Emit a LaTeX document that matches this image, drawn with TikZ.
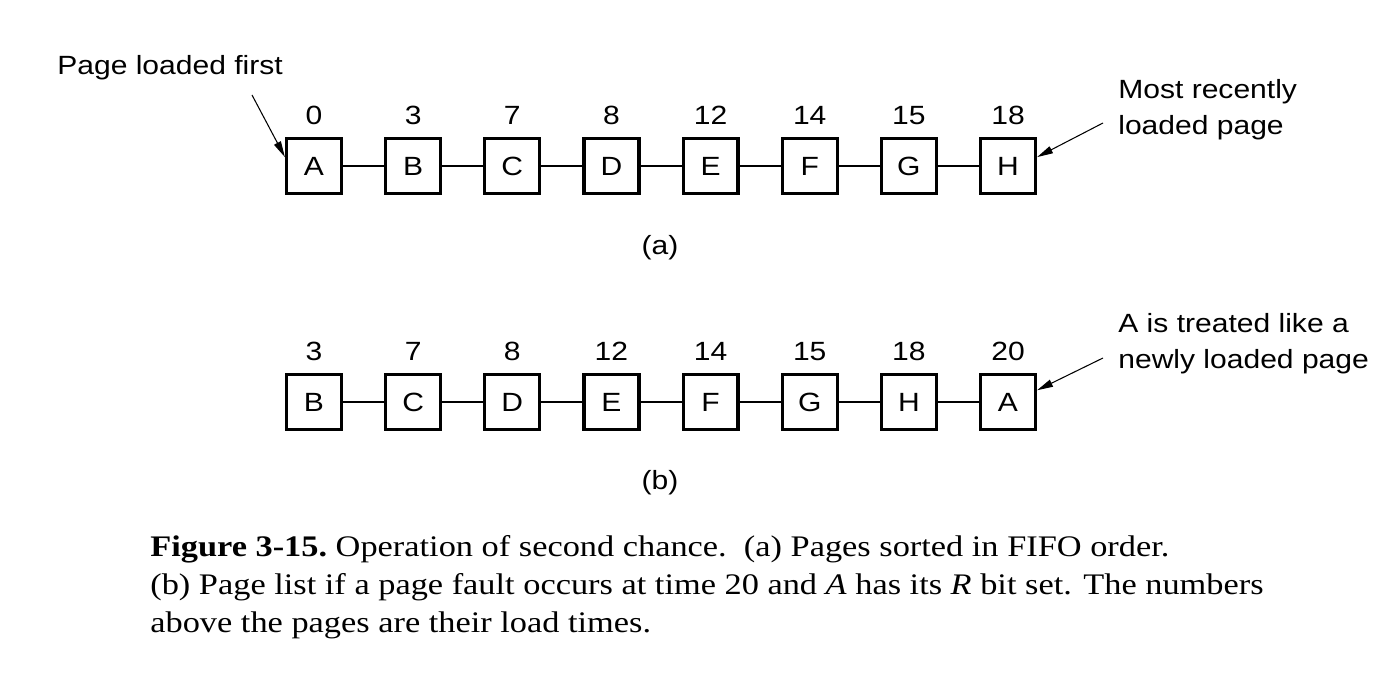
\documentclass[tikz,border=0pt]{standalone}
\usepackage{fontspec}
\setmainfont[FakeStretch=1.15]{Liberation Serif}
\setsansfont[FakeStretch=1.14]{Liberation Sans}
\usepackage{tikz}
\usetikzlibrary{arrows.meta,positioning}

\begin{document}
\begin{tikzpicture}[x=0.02cm, y=0.02cm, node distance=0.82cm,
  every node/.style={font=\sffamily\fontsize{15}{20.5}\selectfont},
  every label/.style={inner sep=0pt},
  label distance=0.24cm,
  pagebox/.style={draw, line width=1.8pt, minimum size=1.1cm, inner sep=0pt},
  link/.style={line width=1.3pt},
  callout/.style={-{Triangle[length=0.32cm,width=0.15cm]}, line width=0.6pt}]
\useasboundingbox (0,0) rectangle (1390,686);

% (a) pages in FIFO order
\node[pagebox, label=above:0] (aA) at (314,520) {A};
\node[pagebox, label=above:3, right=of aA] (aB) {B};
\node[pagebox, label=above:7, right=of aB] (aC) {C};
\node[pagebox, label=above:8, right=of aC] (aD) {D};
\node[pagebox, label=above:12, right=of aD] (aE) {E};
\node[pagebox, label=above:14, right=of aE] (aF) {F};
\node[pagebox, label=above:15, right=of aF] (aG) {G};
\node[pagebox, label=above:18, right=of aG] (aH) {H};
\draw[link] (aA)--(aB) (aB)--(aC) (aC)--(aD) (aD)--(aE) (aE)--(aF) (aF)--(aG) (aG)--(aH);

\node[anchor=west, inner sep=0pt] (first) at (57,618) {Page loaded first};
\coordinate (firstTail) at (252,591);
\draw[callout] (firstTail)--(aA.163);
\node[anchor=west, align=left, inner sep=0pt] (recent) at (1118,576) {Most recently\\loaded page};
\coordinate (recentTail) at (1103,563);
\draw[callout] (recentTail)--(aH.17);
\node (lblA) at (660,438) {(a)};

% (b) A moved to the end
\node[pagebox, label=above:3] (bB) at (314,284) {B};
\node[pagebox, label=above:7, right=of bB] (bC) {C};
\node[pagebox, label=above:8, right=of bC] (bD) {D};
\node[pagebox, label=above:12, right=of bD] (bE) {E};
\node[pagebox, label=above:14, right=of bE] (bF) {F};
\node[pagebox, label=above:15, right=of bF] (bG) {G};
\node[pagebox, label=above:18, right=of bG] (bH) {H};
\node[pagebox, label=above:20, right=of bH] (bA) {A};
\draw[link] (bB)--(bC) (bC)--(bD) (bD)--(bE) (bE)--(bF) (bF)--(bG) (bG)--(bH) (bH)--(bA);

\node[anchor=west, align=left, inner sep=0pt] (newly) at (1118,342) {A is treated like a\\newly loaded page};
\coordinate (newlyTail) at (1103,328);
\draw[callout] (newlyTail)--(bA.22);
\node (lblB) at (660,203) {(b)};

% caption
\node[anchor=north west, align=left, inner sep=0pt, font=\rmfamily\fontsize{17}{21.6}\selectfont] (caption) at (150,151)
  {\textbf{Figure 3-15.}\ Operation of second chance.\ \ (a) Pages sorted in FIFO order.\\
   (b) Page list if a page fault occurs at time 20 and \textit{A} has its \textit{R} bit set. The numbers\\
   above the pages are their load times.};
\end{tikzpicture}
\end{document}
